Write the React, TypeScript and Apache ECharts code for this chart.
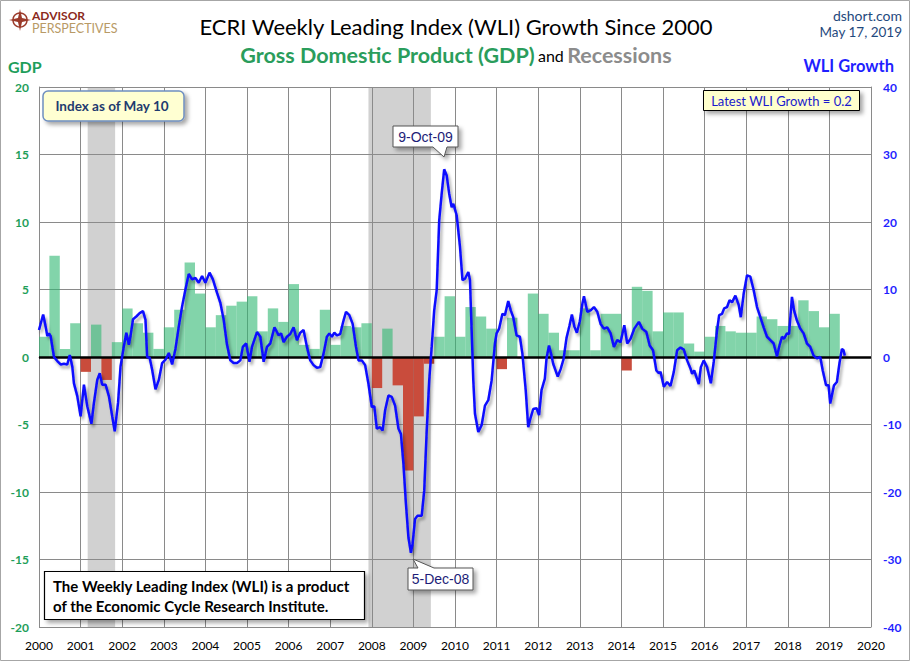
import React, { useEffect, useRef } from "react";
import * as echarts from "echarts";

// ---------- DATA ----------
const xTickYears = [2000, 2020];
const gdpStartYear = 2000;
// quarterly real GDP growth (annualized %), 2000Q1 .. 2019Q1
const gdpValues = [
  1.5, 7.5, 0.6, 2.5,
  -1.1, 2.4, -1.7, 1.1,
  3.6, 2.5, 1.8, 0.6,
  2.2, 3.5, 7.0, 4.7,
  2.2, 3.1, 3.8, 4.1,
  4.5, 1.9, 3.6, 2.6,
  5.4, 0.9, 0.6, 3.5,
  0.9, 2.3, 2.2, 2.5,
  -2.3, 2.1, -2.1, -8.4,
  -4.4, -0.5, 1.5, 4.5,
  1.5, 3.7, 3.0, 2.1,
  -0.9, 2.9, -0.1, 4.7,
  3.2, 1.8, 0.5, 0.5,
  3.6, 0.5, 3.2, 3.2,
  -1.0, 5.2, 4.9, 1.9,
  3.3, 3.3, 1.0, 0.4,
  1.5, 2.3, 1.9, 1.8,
  1.8, 3.0, 2.8, 2.3,
  2.3, 4.2, 3.4, 2.2,
  3.2,
];
const recessionStarts = [2001.17, 2007.92];
const recessionEnds = [2001.83, 2009.42];

const wliDates = [
  2000.0, 2000.1, 2000.16, 2000.2, 2000.24, 2000.28, 2000.36, 2000.44, 2000.52, 2000.6, 2000.68, 2000.74, 2000.8, 2000.84, 2000.92,
  2001.0, 2001.08, 2001.16, 2001.26, 2001.32, 2001.4, 2001.46, 2001.52, 2001.6, 2001.68, 2001.76, 2001.82, 2001.9, 2001.96,
  2002.04, 2002.1, 2002.16, 2002.2, 2002.26, 2002.34, 2002.42, 2002.5, 2002.56, 2002.6, 2002.66, 2002.72, 2002.8, 2002.88, 2002.96,
  2003.04, 2003.12, 2003.2, 2003.28, 2003.36, 2003.44, 2003.52, 2003.6, 2003.68, 2003.76, 2003.84, 2003.92,
  2004.0, 2004.1, 2004.18, 2004.28, 2004.36, 2004.44, 2004.52, 2004.6, 2004.68, 2004.76, 2004.84, 2004.9, 2004.98,
  2005.06, 2005.12, 2005.24, 2005.32, 2005.4, 2005.48, 2005.56, 2005.66, 2005.76, 2005.82, 2005.88, 2005.96,
  2006.04, 2006.12, 2006.2, 2006.28, 2006.36, 2006.44, 2006.52, 2006.6, 2006.68, 2006.76, 2006.84, 2006.92, 2006.98,
  2007.04, 2007.1, 2007.16, 2007.24, 2007.32, 2007.38, 2007.46, 2007.54, 2007.62, 2007.68, 2007.76, 2007.84, 2007.92,
  2008.0, 2008.06, 2008.12, 2008.2, 2008.26, 2008.32, 2008.4, 2008.48, 2008.56, 2008.64, 2008.7, 2008.76, 2008.82, 2008.88, 2008.94, 2008.98,
  2009.04, 2009.1, 2009.2, 2009.26, 2009.32, 2009.38, 2009.44, 2009.5, 2009.56, 2009.62, 2009.68, 2009.74, 2009.8, 2009.86, 2009.92, 2009.96,
  2010.04, 2010.12, 2010.18, 2010.24, 2010.32, 2010.36, 2010.4, 2010.44, 2010.48, 2010.56, 2010.64, 2010.72, 2010.8, 2010.88, 2010.96,
  2011.0, 2011.06, 2011.14, 2011.2, 2011.28, 2011.34, 2011.4, 2011.48, 2011.56, 2011.62, 2011.7, 2011.76, 2011.8, 2011.88, 2011.96,
  2012.02, 2012.08, 2012.16, 2012.2, 2012.26, 2012.32, 2012.36, 2012.47, 2012.54, 2012.61, 2012.68, 2012.75, 2012.81, 2012.87, 2012.93,
  2013.0, 2013.06, 2013.1, 2013.18, 2013.26, 2013.34, 2013.42, 2013.5, 2013.58, 2013.66, 2013.74, 2013.82, 2013.9, 2013.98,
  2014.07, 2014.14, 2014.22, 2014.31, 2014.42, 2014.5, 2014.6, 2014.68, 2014.76, 2014.84, 2014.9, 2014.94,
  2015.02, 2015.1, 2015.18, 2015.26, 2015.34, 2015.42, 2015.5, 2015.58, 2015.66, 2015.7, 2015.75, 2015.86, 2015.91, 2015.98,
  2016.06, 2016.15, 2016.22, 2016.3, 2016.35, 2016.42, 2016.47, 2016.54, 2016.6, 2016.66, 2016.74, 2016.82, 2016.87, 2016.94,
  2017.02, 2017.1, 2017.18, 2017.26, 2017.34, 2017.42, 2017.5, 2017.58, 2017.66, 2017.74, 2017.8, 2017.86, 2017.91, 2017.98,
  2018.03, 2018.1, 2018.15, 2018.22, 2018.3, 2018.38, 2018.46, 2018.54, 2018.62, 2018.7, 2018.78, 2018.84, 2018.92, 2018.98,
  2019.02, 2019.06, 2019.11, 2019.18, 2019.24, 2019.3, 2019.34, 2019.37,
];
const wliValues = [
  4.0, 6.3, 4.5, 3.1, 3.5, 3.1, 0, -0.6, -1.1, -1.0, -1.1, 0.3, -1.4, -3.9, -5.8,
  -8.8, -4.1, -7.3, -9.9, -6.8, -3.4, -2.4, -4.1, -4.1, -5.8, -8.8, -11.0, -6.8, -1.4,
  1.6, 3.6, 1.8, 3.1, 5.6, 6.0, 6.5, 6.8, 5.5, 0, -0.1, -1.9, -4.8, -3.4, -0.9,
  -0.4, 0.6, -1.1, 1.2, 4.5, 7.5, 10.0, 12.3, 11.5, 11.7, 11.0, 12.0,
  11.0, 12.5, 11.5, 9.5, 8.0, 5.5, 1.8, -0.5, -0.9, -0.9, -0.5, 1.5, 2.0,
  -0.7, 1.5, 3.7, 3.0, -0.7, 1.5, 2.0, 4.4, 3.2, 3.5, 2.2, 3.0,
  3.4, 4.4, 2.5, 3.6, 4.0, 1.5, -0.5, -1.2, -1.6, -1.5, 0.5, 3.0, 3.5,
  3.0, 3.6, 3.2, 3.4, 5.4, 6.7, 6.2, 4.9, 1.5, -0.5, -0.5, -1.2, -4.0,
  -7.4, -7.3, -10.6, -10.4, -10.9, -7.9, -5.7, -5.9, -7.2, -10.6, -11.4, -15.8, -21.7, -26.7, -29.0, -27.7,
  -24.0, -23.5, -23.5, -19.8, -10.9, -3.5, 1.5, 6.9, 9.9, 20.2, 24.2, 27.8, 26.9, 24.2, 22.2, 22.7,
  21.0, 16.3, 11.4, 11.6, 12.6, 11.4, 4.0, -3.5, -8.4, -11.1, -10.1, -7.2, -6.4, -3.5, 2.0,
  3.5, 4.2, 6.4, 6.2, 8.3, 6.9, 5.9, 3.2, 3.0, 0.5, -4.9, -10.4, -9.4, -7.7, -7.6,
  -8.6, -4.9, -3.2, -0.2, 1.7, 0.2, -1.0, -2.9, -1.8, -0.3, 2.8, 4.6, 6.3, 4.5, 3.6,
  5.3, 7.8, 9.0, 6.7, 6.9, 7.4, 6.7, 4.9, 4.2, 4.4, 3.5, 1.5, 2.5, 2.2,
  4.7, 2.0, 2.7, 4.2, 5.2, 4.2, 3.7, 1.7, 1.0, -2.0, -2.4, -2.2,
  -4.4, -3.7, -4.3, -2.2, 1.0, 1.4, 1.1, -0.5, -1.7, -2.5, -2.0, -4.0, -1.5, -0.5,
  -1.5, -3.9, -0.7, 4.0, 6.2, 6.4, 7.2, 7.4, 8.4, 8.1, 9.1, 7.7, 5.9, 9.4,
  12.1, 11.9, 9.9, 7.4, 5.9, 4.4, 3.0, 2.5, 2.0, 0.1, 1.7, 3.0, 2.7, 3.5,
  3.4, 8.9, 6.9, 5.4, 4.2, 3.5, 2.0, 1.5, 0.2, -0.2, 0, -2.0, -4.2, -4.2,
  -6.9, -5.7, -4.2, -3.7, -1.0, 1.2, 1.0, 0.2,
];

const FONT = "Lato, 'Open Sans', sans-serif";

export default function App() {
  const ref = useRef<HTMLDivElement>(null);

  useEffect(() => {
    document.body.style.margin = "0";
    const chart = echarts.init(ref.current as HTMLDivElement, null, { renderer: "svg" });

    const gdpData = gdpValues.map((v, i) => [gdpStartYear + i * 0.25, v]);
    const recData = recessionStarts.map((s, i) => [s, recessionEnds[i]]);
    const wliData = wliDates.map((d, i) => [d, wliValues[i]]);

    const boxShadow = { shadowColor: "rgba(0,0,0,0.35)", shadowBlur: 4, shadowOffsetX: 3, shadowOffsetY: 3 };

    const option: any = {
      animation: false,
      backgroundColor: "#ffffff",
      grid: { left: 39, right: 39, top: 87, bottom: 34, containLabel: false },
      xAxis: {
        type: "value",
        min: xTickYears[0],
        max: xTickYears[1],
        interval: 1,
        axisLine: { show: true, lineStyle: { color: "#8a8a8a", width: 1 } },
        axisTick: { show: false },
        axisLabel: { color: "#000", fontFamily: FONT, fontSize: 12, margin: 12, formatter: (v: number) => String(v) },
        splitLine: { show: true, lineStyle: { color: "#8a8a8a", width: 1 } },
      },
      yAxis: [
        {
          type: "value",
          min: -20,
          max: 20,
          interval: 5,
          position: "left",
          axisLine: { show: true, lineStyle: { color: "#8a8a8a" } },
          axisTick: { show: false },
          axisLabel: { color: "#1e9e5a", fontWeight: "bold", fontFamily: FONT, fontSize: 12, margin: 10 },
          splitLine: { show: true, lineStyle: { color: "#8a8a8a", width: 1 } },
        },
        {
          type: "value",
          min: -40,
          max: 40,
          interval: 10,
          position: "right",
          axisLine: { show: true, lineStyle: { color: "#8a8a8a" } },
          axisTick: { show: false },
          axisLabel: { color: "#1f1fff", fontWeight: "bold", fontFamily: FONT, fontSize: 12, margin: 12 },
          splitLine: { show: false },
        },
      ],
      series: [
        {
          type: "custom",
          name: "Recessions",
          xAxisIndex: 0,
          yAxisIndex: 0,
          z: 1,
          silent: true,
          data: recData,
          encode: { x: [0, 1] },
          renderItem: (params: any, api: any) => {
            const p1 = api.coord([api.value(0), 20]);
            const p2 = api.coord([api.value(1), -20]);
            return {
              type: "rect",
              shape: { x: p1[0], y: p1[1], width: p2[0] - p1[0], height: p2[1] - p1[1] },
              style: { fill: "rgba(140,140,140,0.4)" },
            };
          },
        },
        {
          type: "custom",
          name: "GDP",
          xAxisIndex: 0,
          yAxisIndex: 0,
          z: 2,
          silent: true,
          data: gdpData,
          encode: { x: 0, y: 1 },
          renderItem: (params: any, api: any) => {
            const x0 = api.value(0);
            const v = api.value(1);
            const p1 = api.coord([x0, v]);
            const p2 = api.coord([x0 + 0.25, 0]);
            return {
              type: "rect",
              shape: {
                x: p1[0],
                y: Math.min(p1[1], p2[1]),
                width: p2[0] - p1[0],
                height: Math.abs(p2[1] - p1[1]),
              },
              style: { fill: v >= 0 ? "rgba(46,184,114,0.6)" : "#c94c3c" },
            };
          },
          markLine: {
            silent: true,
            symbol: "none",
            label: { show: false },
            lineStyle: { color: "#000", width: 2.5, type: "solid" },
            data: [{ yAxis: 0 }],
          },
        },
        {
          type: "line",
          name: "WLI Growth",
          xAxisIndex: 0,
          yAxisIndex: 1,
          z: 5,
          showSymbol: false,
          symbol: "none",
          data: wliData,
          lineStyle: {
            color: "#0a0aff",
            width: 2.5,
            shadowColor: "rgba(0,0,0,0.35)",
            shadowBlur: 3,
            shadowOffsetX: 2,
            shadowOffsetY: 3,
          },
        },
      ],
      graphic: [
        // outer frame
        { type: "rect", z: 0, shape: { x: 0.5, y: 0.5, width: 909, height: 660 }, style: { fill: "none", stroke: "#a6a6a6", lineWidth: 1 } },
        // logo
        { type: "circle", shape: { cx: 20, cy: 20, r: 7 }, style: { fill: "none", stroke: "#9b3a2a", lineWidth: 1.5 } },
        {
          type: "polygon",
          shape: { points: [[20, 9], [22, 18], [31, 20], [22, 22], [20, 31], [18, 22], [9, 20], [18, 18]] },
          style: { fill: "#9b3a2a" },
        },
        { type: "text", style: { text: "ADVISOR", x: 32, y: 9, font: `bold 12px ${FONT}`, fill: "#8b2a20", textVerticalAlign: "top" } },
        { type: "text", style: { text: "PERSPECTIVES", x: 32, y: 22, font: `12.5px ${FONT}`, fill: "#b89a66", textVerticalAlign: "top" } },
        // titles
        {
          type: "text",
          style: { text: "ECRI Weekly Leading Index (WLI) Growth Since 2000", x: 456, y: 26, font: `22px ${FONT}`, fill: "#000", textAlign: "center", textVerticalAlign: "middle" },
        },
        {
          type: "text",
          style: {
            x: 456,
            y: 55,
            textAlign: "center",
            textVerticalAlign: "middle",
            rich: {
              g: { fontFamily: FONT, fontSize: 21.5, fill: "#2a9d5c", fontWeight: "bold" },
              a: { fontFamily: FONT, fontSize: 16, fill: "#000" },
              r: { fontFamily: FONT, fontSize: 21.5, fill: "#8c8c8c", fontWeight: "bold" },
            },
            text: "{g|Gross Domestic Product (GDP)} {a|and} {r|Recessions}",
          },
        },
        { type: "text", style: { text: "dshort.com", x: 902, y: 15, font: `14px ${FONT}`, fill: "#1f497d", textAlign: "right", textVerticalAlign: "middle" } },
        { type: "text", style: { text: "May 17, 2019", x: 902, y: 32, font: `13.5px ${FONT}`, fill: "#1f497d", textAlign: "right", textVerticalAlign: "middle" } },
        { type: "text", style: { text: "GDP", x: 8, y: 66, font: `bold 16px ${FONT}`, fill: "#1e9e5a", textVerticalAlign: "middle" } },
        { type: "text", style: { text: "WLI Growth", x: 894, y: 66, font: `bold 16.5px ${FONT}`, fill: "#1f1fff", textAlign: "right", textVerticalAlign: "middle" } },
        // Index as of box
        {
          type: "rect",
          z: 20,
          shape: { x: 43, y: 91, width: 141, height: 30, r: 5 },
          style: { fill: "#ffffd2", stroke: "#6f8fc0", lineWidth: 1.5, ...boxShadow },
        },
        { type: "text", z: 21, style: { text: "Index as of May 10", x: 112, y: 106, font: `bold 13.5px ${FONT}`, fill: "#1f3b6f", textAlign: "center", textVerticalAlign: "middle" } },
        // Latest WLI box
        {
          type: "rect",
          z: 20,
          shape: { x: 703.5, y: 90.5, width: 156, height: 20 },
          style: { fill: "#ffffcc", stroke: "#000", lineWidth: 1, ...boxShadow },
        },
        { type: "text", z: 21, style: { text: "Latest WLI Growth = 0.2", x: 781.5, y: 100.5, font: `13px ${FONT}`, fill: "#1a1acc", textAlign: "center", textVerticalAlign: "middle" } },
        // 9-Oct-09 callout
        {
          type: "polygon",
          z: 20,
          shape: { points: [[393, 126], [458, 126], [458, 147], [447, 147], [444, 157], [433, 147], [393, 147]] },
          style: { fill: "#ffffff", stroke: "#555", lineWidth: 1, ...boxShadow },
        },
        { type: "text", z: 21, style: { text: "9-Oct-09", x: 425.5, y: 136.5, font: `14px 'Liberation Sans', Arial, sans-serif`, fill: "#1d1d78", textAlign: "center", textVerticalAlign: "middle" } },
        // 5-Dec-08 callout
        {
          type: "polygon",
          z: 20,
          shape: { points: [[408, 568], [418, 568], [413, 559], [434, 568], [473, 568], [473, 590], [408, 590]] },
          style: { fill: "#ffffff", stroke: "#555", lineWidth: 1, ...boxShadow },
        },
        { type: "text", z: 21, style: { text: "5-Dec-08", x: 440.5, y: 579, font: `14px 'Liberation Sans', Arial, sans-serif`, fill: "#1d1d78", textAlign: "center", textVerticalAlign: "middle" } },
        // bottom note box
        {
          type: "rect",
          z: 20,
          shape: { x: 44.5, y: 571.5, width: 320, height: 48 },
          style: { fill: "#ffffff", stroke: "#000", lineWidth: 1.2, ...boxShadow },
        },
        { type: "text", z: 21, style: { text: "The Weekly Leading Index (WLI) is a product", x: 53, y: 585.5, font: `bold 15px ${FONT}`, fill: "#000", textVerticalAlign: "middle" } },
        { type: "text", z: 21, style: { text: "of the Economic Cycle Research Institute.", x: 53, y: 605.5, font: `bold 15px ${FONT}`, fill: "#000", textVerticalAlign: "middle" } },
      ],
    };

    chart.setOption(option);
    return () => chart.dispose();
  }, []);

  return <div ref={ref} style={{ width: 910, height: 661 }} />;
}
